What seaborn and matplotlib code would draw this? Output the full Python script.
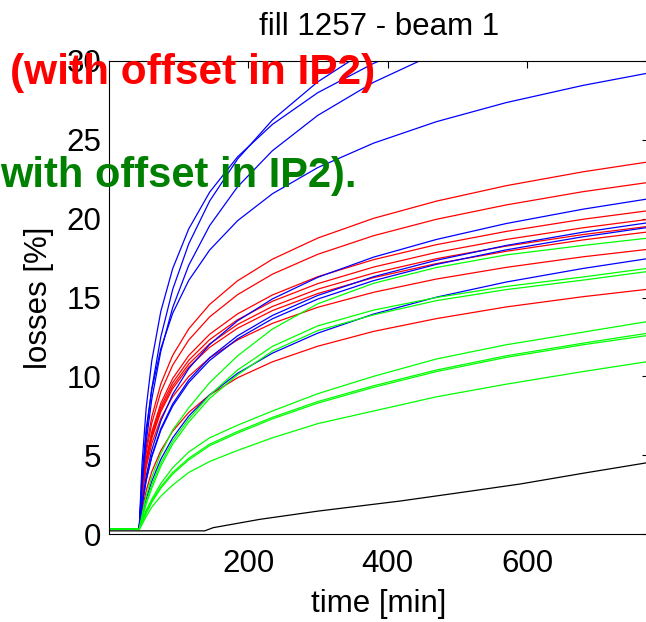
import numpy as np
import pandas as pd
import matplotlib
matplotlib.use("Agg")
import matplotlib.pyplot as plt
import seaborn as sns

# ---------------- data ----------------
time_min = [0, 44, 48, 54, 62, 75, 92, 115, 145, 185, 235, 300, 380, 470, 570, 680, 790]

# red curves
red_1 = [0.3, 0.3, 3.05, 5.43, 7.43, 9.52, 11.33, 13.01, 14.56, 16.06, 17.43, 18.77, 20.02, 21.11, 22.09, 22.97, 23.71]
red_2 = [0.3, 0.3, 2.89, 5.15, 7.03, 9.01, 10.71, 12.30, 13.77, 15.18, 16.48, 17.74, 18.92, 19.96, 20.87, 21.71, 22.40]
red_3 = [0.3, 0.3, 2.68, 4.75, 6.48, 8.29, 9.86, 11.32, 12.67, 13.96, 15.16, 16.32, 17.40, 18.35, 19.19, 19.96, 20.60]
red_4 = [0.3, 0.3, 2.62, 4.63, 6.31, 8.08, 9.60, 11.02, 12.33, 13.59, 14.76, 15.88, 16.93, 17.86, 18.68, 19.42, 20.05]
red_5 = [0.3, 0.3, 2.56, 4.53, 6.18, 7.90, 9.39, 10.78, 12.06, 13.29, 14.43, 15.53, 16.55, 17.46, 18.26, 18.99, 19.60]
red_6 = [0.3, 0.3, 2.52, 4.45, 6.07, 7.76, 9.22, 10.59, 11.84, 13.05, 14.17, 15.25, 16.26, 17.15, 17.93, 18.65, 19.25]
red_7 = [0.3, 0.3, 2.39, 4.21, 5.73, 7.33, 8.71, 9.99, 11.17, 12.31, 13.36, 14.38, 15.33, 16.17, 16.91, 17.58, 18.14]
red_8 = [0.3, 0.3, 1.49, 2.75, 3.95, 5.29, 6.52, 7.71, 8.82, 9.91, 10.92, 11.91, 12.85, 13.66, 14.40, 15.05, 15.61]

# blue curves
blue_1 = [0.3, 0.3, 3.21, 6.29, 9.21, 12.50, 15.51, 18.40, 21.12, 23.78, 26.26, 28.68, 30.96, 32.95, 34.74, 36.35, 37.72]
blue_2 = [0.3, 0.3, 4.42, 7.99, 10.98, 14.12, 16.83, 19.35, 21.68, 23.92, 25.98, 27.99, 29.85, 31.50, 32.96, 34.28, 35.38]
blue_3 = [0.3, 0.3, 2.99, 5.84, 8.54, 11.59, 14.36, 17.04, 19.56, 22.02, 24.31, 26.55, 28.65, 30.50, 32.16, 33.64, 34.91]
blue_4 = [0.3, 0.3, 3.71, 6.67, 9.15, 11.75, 14.00, 16.08, 18.01, 19.87, 21.58, 23.24, 24.79, 26.15, 27.36, 28.45, 29.37]
blue_5 = [0.3, 0.3, 1.94, 3.67, 5.32, 7.17, 8.86, 10.49, 12.02, 13.52, 14.91, 16.28, 17.56, 18.68, 19.69, 20.60, 21.37]
blue_6 = [0.3, 0.3, 1.82, 3.43, 4.96, 6.68, 8.25, 9.76, 11.18, 12.57, 13.86, 15.13, 16.32, 17.36, 18.30, 19.14, 19.85]
blue_7 = [0.3, 0.3, 1.80, 3.38, 4.88, 6.58, 8.12, 9.61, 11.01, 12.38, 13.65, 14.90, 16.07, 17.10, 18.02, 18.85, 19.55]
blue_8 = [0.3, 0.3, 1.16, 2.22, 3.34, 4.74, 6.10, 7.48, 8.83, 10.19, 11.47, 12.74, 13.95, 15.02, 15.98, 16.84, 17.58]

# green curves
green_1 = [0.3, 0.3, 1.2, 2.4, 3.6, 5.1, 6.6, 8.0, 9.6, 11.3, 13.0, 14.6, 15.9, 16.9, 17.7, 18.3, 18.85]
green_2 = [0.3, 0.3, 1.0, 2.0, 3.1, 4.5, 5.9, 7.3, 8.8, 10.4, 11.9, 13.2, 14.2, 15.0, 15.7, 16.3, 16.95]
green_3 = [0.3, 0.3, 0.9, 1.9, 2.9, 4.3, 5.7, 7.1, 8.6, 10.1, 11.6, 12.9, 13.9, 14.8, 15.5, 16.1, 16.75]
green_4 = [0.3, 0.3, 0.8, 1.5, 2.2, 3.2, 4.2, 5.2, 6.1, 6.9, 7.8, 8.9, 10.0, 11.1, 12.0, 12.8, 13.6]
green_5 = [0.3, 0.3, 0.8, 1.4, 2.1, 3.0, 3.9, 4.8, 5.7, 6.5, 7.4, 8.4, 9.4, 10.4, 11.3, 12.1, 12.85]
green_6 = [0.3, 0.3, 0.7, 1.3, 2.0, 2.9, 3.8, 4.7, 5.6, 6.4, 7.3, 8.3, 9.3, 10.3, 11.2, 12.0, 12.7]
green_7 = [0.3, 0.3, 0.6, 1.1, 1.7, 2.4, 3.1, 3.9, 4.6, 5.3, 6.1, 7.0, 7.8, 8.7, 9.5, 10.3, 11.05]

# black curve
black_time = [0, 44, 138, 150, 217, 300, 418, 500, 590, 680, 790]
black_loss = [0.2, 0.2, 0.2, 0.4, 0.93, 1.45, 2.09, 2.6, 3.17, 3.85, 4.65]

title_text = "fill 1257 - beam 1"
x_label = "time [min]"
y_label = "losses [%]"
red_note = "(with offset in IP2)"
green_note = "with offset in IP2)."
x_ticks = [200, 400, 600]
y_ticks = [0, 5, 10, 15, 20, 25, 30]

# ---------------- build long table ----------------
groups = [
    ("black", [("k1", black_time, black_loss)]),
    ("red", [("r1", time_min, red_1), ("r2", time_min, red_2), ("r3", time_min, red_3),
             ("r4", time_min, red_4), ("r5", time_min, red_5), ("r6", time_min, red_6),
             ("r7", time_min, red_7), ("r8", time_min, red_8)]),
    ("blue", [("b1", time_min, blue_1), ("b2", time_min, blue_2), ("b3", time_min, blue_3),
              ("b4", time_min, blue_4), ("b5", time_min, blue_5), ("b6", time_min, blue_6),
              ("b7", time_min, blue_7), ("b8", time_min, blue_8)]),
    ("green", [("g1", time_min, green_1), ("g2", time_min, green_2), ("g3", time_min, green_3),
               ("g4", time_min, green_4), ("g5", time_min, green_5), ("g6", time_min, green_6),
               ("g7", time_min, green_7)]),
]
color_of = {"black": "#000000", "red": "#ff0000", "blue": "#0000ff", "green": "#00ff00"}

rows = []
palette = {}
for col, curves in groups:
    for name, tt, vv in curves:
        palette[name] = color_of[col]
        for t, v in zip(tt, vv):
            rows.append({"curve": name, "time": t, "loss": v})
df = pd.DataFrame(rows)

# ---------------- style ----------------
sns.set_style("white")
plt.rcParams["font.family"] = ["Liberation Sans", "DejaVu Sans"]
plt.rcParams["text.color"] = "black"
plt.rcParams["axes.labelcolor"] = "black"
plt.rcParams["xtick.color"] = "black"
plt.rcParams["ytick.color"] = "black"

W, H = 646, 622
fig = plt.figure(figsize=(W / 100, H / 100), dpi=100)
ax = fig.add_axes([108.5 / W, 88 / H, 540.6 / W, 473 / H])

sns.lineplot(data=df, x="time", y="loss", hue="curve", palette=palette,
             hue_order=list(palette.keys()), estimator=None, sort=False,
             legend=False, linewidth=0.9, ax=ax)

ax.set_xlim(0, 775)
ax.set_ylim(0, 30)
ax.set_xticks(x_ticks)
ax.set_yticks(y_ticks)
ax.tick_params(direction="in", length=5, width=0.8, top=True, right=True,
               labelsize=22.5, colors="black")
ax.tick_params(axis="x", pad=11)
ax.tick_params(axis="y", pad=5)
for s in ax.spines.values():
    s.set_visible(True)
    s.set_color("black")
    s.set_linewidth(0.8)

ax.set_title(title_text, fontsize=22.5, pad=18.7, color="black")
ax.set_xlabel(x_label, fontsize=22.5, color="black")
ax.set_ylabel(y_label, fontsize=22.5, color="black")
ax.xaxis.set_label_coords(0.5, -0.117)
ax.yaxis.set_label_coords(-0.1008, 0.5)

fig.text(10 / W, 1 - 84 / H, red_note, color="#ff0000", fontsize=30.5,
         fontweight="bold", ha="left", va="baseline")
fig.text(0 / W, 1 - 187 / H, green_note, color="#008000", fontsize=30,
         fontweight="bold", ha="left", va="baseline")

fig.savefig("out.png", dpi=100)
